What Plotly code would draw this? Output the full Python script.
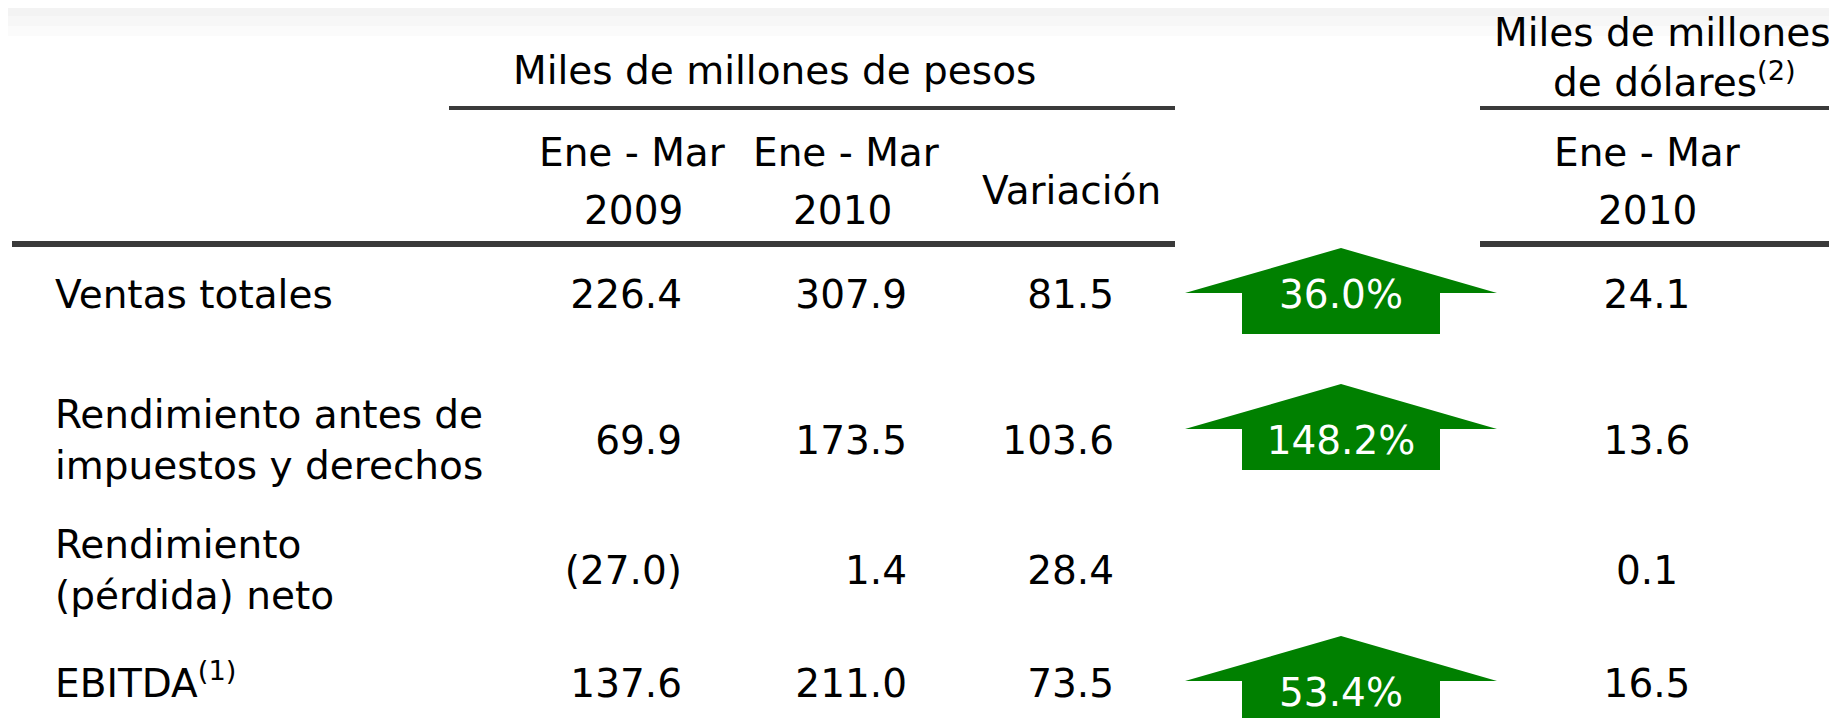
import plotly.graph_objects as go

# data
categories = ["Ventas totales",
              "Rendimiento antes de<br>impuestos y derechos",
              "Rendimiento<br>(pérdida) neto",
              "EBITDA<sup>(1)</sup>"]
ene_mar_2009 = [226.4, 69.9, -27.0, 137.6]
ene_mar_2010 = [307.9, 173.5, 1.4, 211.0]
variacion = [81.5, 103.6, 28.4, 73.5]
pct_change = [36.0, 148.2, None, 53.4]
usd_2010 = [24.1, 13.6, 0.1, 16.5]

W, H = 1837, 718
OFF = 8  # the page body has an 8px margin, shift the axes so 1 unit = 1 window pixel
FONT = "DejaVu Sans"
FS = 39
INK = "#000000"
RULE = "#3a3a3a"
GREEN = "#008000"

# layout (pixel positions of rows / columns)
row_y = [298, 444, 574, 687]
pct_text_y = [298, 444, None, 696]
arrow_tip_y = [248, 384, None, 636]
label_x = 55
col_2009_right = 682
col_2010_right = 907
col_var_right = 1114
arrow_x = 1341
usd_x = 1647


def fmt(v):
    return "(%.1f)" % abs(v) if v < 0 else "%.1f" % v


fig = go.Figure()

# arrows for the % change
for tip, p in zip(arrow_tip_y, pct_change):
    if p is None:
        continue
    wing = tip + 45
    bottom = wing + 41
    xs = [arrow_x, arrow_x + 156, arrow_x + 99, arrow_x + 99, arrow_x - 99, arrow_x - 99, arrow_x - 156, arrow_x]
    ys = [tip, wing, wing, bottom, bottom, wing, wing, tip]
    fig.add_trace(go.Scatter(x=xs, y=ys, mode="lines", fill="toself", fillcolor=GREEN,
                             line=dict(width=0, color=GREEN), hoverinfo="skip"))

tf = dict(family=FONT, size=FS, color=INK)
fig.add_trace(go.Scatter(x=[label_x] * 4, y=row_y, mode="text", text=categories,
                         textposition="middle right", textfont=tf))
fig.add_trace(go.Scatter(x=[col_2009_right] * 4, y=row_y, mode="text", text=[fmt(v) for v in ene_mar_2009],
                         textposition="middle left", textfont=tf))
fig.add_trace(go.Scatter(x=[col_2010_right] * 4, y=row_y, mode="text", text=[fmt(v) for v in ene_mar_2010],
                         textposition="middle left", textfont=tf))
fig.add_trace(go.Scatter(x=[col_var_right] * 4, y=row_y, mode="text", text=[fmt(v) for v in variacion],
                         textposition="middle left", textfont=tf))
fig.add_trace(go.Scatter(x=[arrow_x] * 3, y=[y for y in pct_text_y if y is not None], mode="text",
                         text=["%.1f%%" % p for p in pct_change if p is not None],
                         textposition="middle center", textfont=dict(family=FONT, size=FS, color="white")))
fig.add_trace(go.Scatter(x=[usd_x] * 4, y=row_y, mode="text", text=[fmt(v) for v in usd_2010],
                         textposition="middle center", textfont=tf))

# header text
headers = [
    ("Miles de millones de pesos", 774, 70),
    ("Ene - Mar", 632, 152), ("2009", 633, 210),
    ("Ene - Mar", 846, 152), ("2010", 842, 210),
    ("Variación", 1071, 190),
    ("Miles de millones", 1662, 32), ("de dólares<sup>(2)</sup>", 1674, 80),
    ("Ene - Mar", 1647, 152), ("2010", 1647, 210),
]
for txt, x, y in headers:
    fig.add_annotation(x=x, y=y, text=txt, showarrow=False, xanchor="center", yanchor="middle",
                       font=tf)

# faint grey band at the top
for y1, c in [(36, "#fbfbfb"), (26, "#f7f7f7"), (16, "#f3f3f3")]:
    fig.add_shape(type="rect", x0=0, x1=W + OFF, y0=0, y1=y1, fillcolor=c, line_width=0, layer="below")

# rules
fig.add_shape(type="line", x0=449, x1=1175, y0=108, y1=108, line=dict(color=RULE, width=4))
fig.add_shape(type="line", x0=1480, x1=W + OFF, y0=108, y1=108, line=dict(color=RULE, width=4))
fig.add_shape(type="line", x0=12, x1=1175, y0=244, y1=244, line=dict(color=RULE, width=6))
fig.add_shape(type="line", x0=1480, x1=W + OFF, y0=244, y1=244, line=dict(color=RULE, width=6))

fig.update_xaxes(range=[OFF, W + OFF], visible=False, fixedrange=True)
fig.update_yaxes(range=[H + OFF, OFF], visible=False, fixedrange=True)
fig.update_layout(width=W, height=H, margin=dict(l=0, r=0, t=0, b=0),
                  paper_bgcolor="white", plot_bgcolor="white", showlegend=False)

fig.write_html("out.html")
